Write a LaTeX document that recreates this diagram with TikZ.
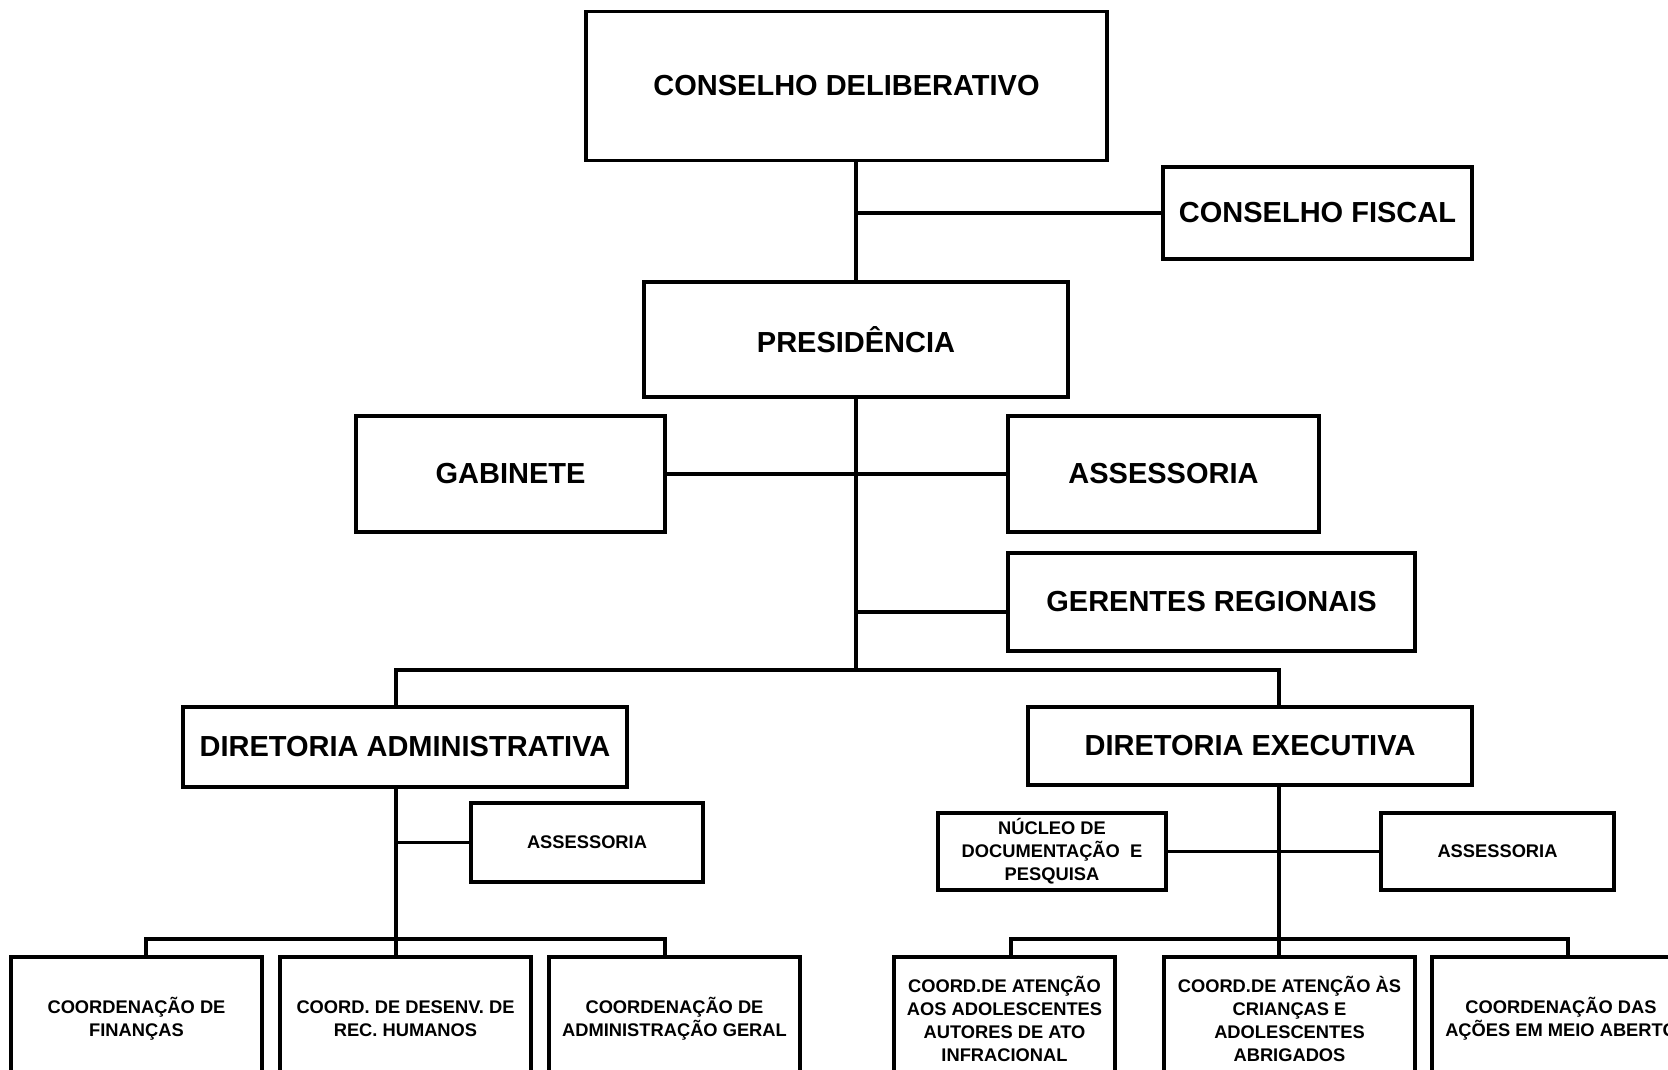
\documentclass[tikz,border=0pt]{standalone}
\usepackage{fontspec}
\setmainfont{Liberation Sans}
\begin{document}
\begin{tikzpicture}[x=1pt, y=-1pt,
  box/.style={draw, line width=3.5pt, align=center, inner sep=0pt,
    font=\fontsize{29}{35}\selectfont\bfseries},
  smallbox/.style={box, font=\fontsize{18.3}{22.9}\selectfont\bfseries},
  link/.style={line width=3.5pt}]

\useasboundingbox (0,0) rectangle (1668,1069);

%% Conselhos e presidencia
\node[box, minimum width=521, minimum height=149] (condel) at (846.5, 86)
  {CONSELHO DELIBERATIVO};
\node[box, minimum width=309, minimum height=92] (fiscal) at (1317.5, 213)
  {CONSELHO FISCAL};
\node[box, minimum width=424, minimum height=115] (pres) at (856, 339.5)
  {PRESIDÊNCIA};

\draw[link] (pres.north) -- (pres.north |- condel.south);
\draw[link] (fiscal.west) -- (fiscal.west -| pres.north);

%% Gabinete, assessoria, gerentes
\node[box, minimum width=309, minimum height=116] (gab) at (510.5, 474)
  {GABINETE};
\node[box, minimum width=311, minimum height=116] (ass) at (1163.5, 474)
  {ASSESSORIA};
\node[box, minimum width=407, minimum height=98] (ger) at (1211.5, 602)
  {GERENTES REGIONAIS};

\draw[link] (gab.east) -- (ass.west);
\draw[link] ([yshift=-10pt]ger.west) -- ([yshift=-10pt]ger.west -| pres.south);

%% Diretorias
\node[box, minimum width=444, minimum height=80] (dira) at (405, 747)
  {DIRETORIA ADMINISTRATIVA};
\node[box, minimum width=444, minimum height=78] (dire) at (1250, 746)
  {DIRETORIA EXECUTIVA};

\coordinate (busM) at (856, 670);
\coordinate (busL) at (396, 670);
\coordinate (busR) at (1279, 670);
\draw[link] (pres.south) -- (busM);
\draw[link] (busL |- dira.north) -- (busL) -- (busR) -- (busR |- dire.north);

%% Lado administrativo
\node[smallbox, minimum width=232, minimum height=79] (assa) at (587, 842.5)
  {ASSESSORIA};
\node[smallbox, minimum width=251, minimum height=124] (fin) at (136.5, 1019)
  {COORDENAÇÃO DE\\FINANÇAS};
\node[smallbox, minimum width=251, minimum height=124] (rh) at (405.5, 1019)
  {COORD. DE DESENV. DE\\REC. HUMANOS};
\node[smallbox, minimum width=251, minimum height=124] (adm) at (674.5, 1019)
  {COORDENAÇÃO DE\\ADMINISTRAÇÃO GERAL};

\coordinate (subL) at (396, 939);
\draw[link] (busL |- dira.south) -- (subL);
\draw[link] (assa.west) -- (assa.west -| subL);
\draw[link] (146, 957) coordinate (dropA) -- (dropA |- subL) -- (665, 939) coordinate (dropC)
  -- (dropC |- adm.north);
\draw[link] (subL) -- (subL |- rh.north);

%% Lado executivo
\node[smallbox, minimum width=228, minimum height=77] (nuc) at (1052, 851.5)
  {NÚCLEO DE\\DOCUMENTAÇÃO\ \ E\\PESQUISA};
\node[smallbox, minimum width=233, minimum height=77] (asse) at (1497.5, 851.5)
  {ASSESSORIA};
\node[smallbox, minimum width=221, minimum height=124] (inf) at (1004.5, 1019)
  {COORD.DE ATENÇÃO\\AOS ADOLESCENTES\\AUTORES DE ATO\\INFRACIONAL};
\node[smallbox, minimum width=251, minimum height=124] (abr) at (1289.5, 1019)
  {COORD.DE ATENÇÃO ÀS\\CRIANÇAS E\\ADOLESCENTES\\ABRIGADOS};
\node[smallbox, minimum width=258, minimum height=124] (abe) at (1561, 1019)
  {COORDENAÇÃO DAS\\AÇÕES EM MEIO ABERTO};

\coordinate (subR) at (1279, 939);
\draw[link] (busR |- dire.south) -- (subR);
\draw[link] (nuc.east) -- (asse.west);
\draw[link] (1011, 957) coordinate (dropD) -- (dropD |- subR) -- (1568, 939) coordinate (dropF)
  -- (dropF |- abe.north);
\draw[link] (subR) -- (subR |- abr.north);

\end{tikzpicture}
\end{document}
